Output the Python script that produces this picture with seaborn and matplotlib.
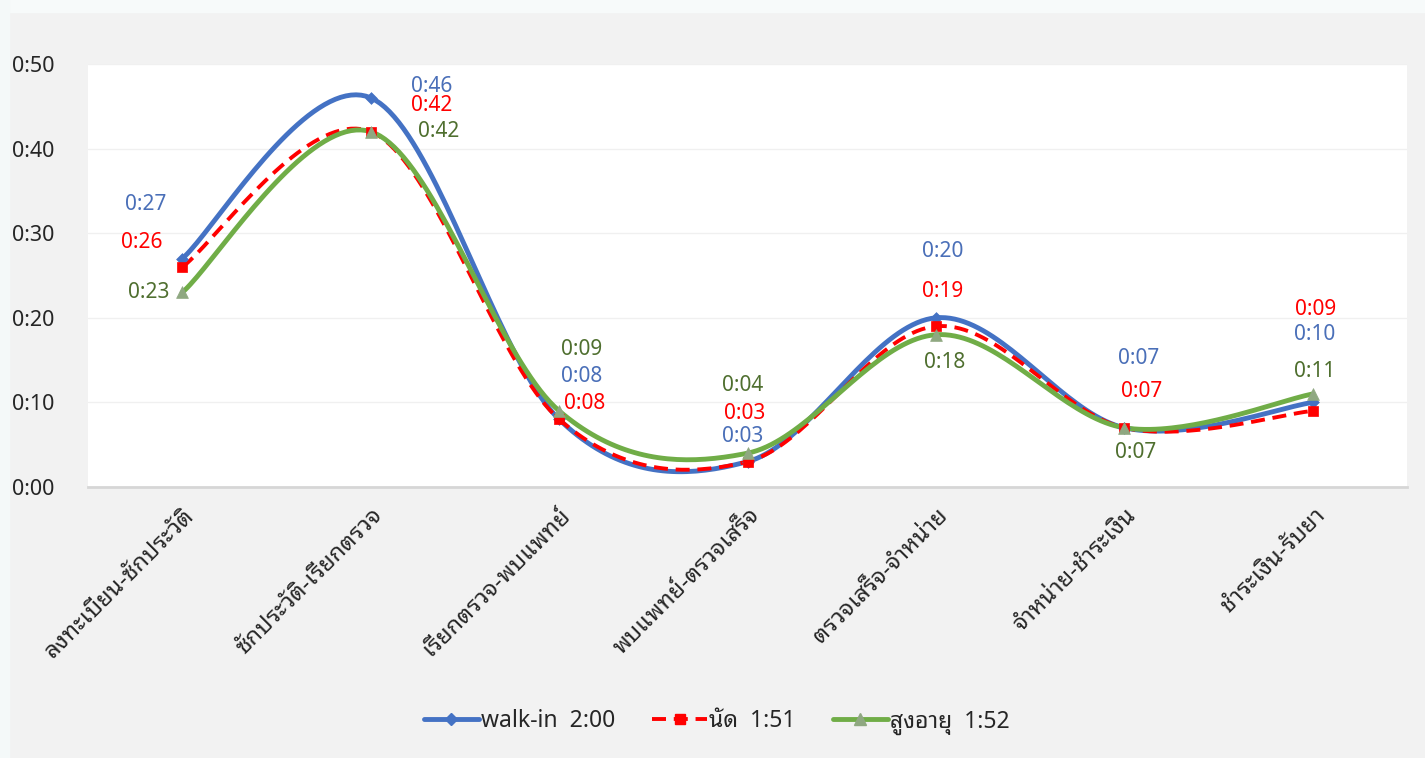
import numpy as np
import pandas as pd
import matplotlib
matplotlib.use("Agg")
import matplotlib.pyplot as plt
from matplotlib.lines import Line2D
from matplotlib.ticker import FuncFormatter, MultipleLocator
import seaborn as sns

# Waiting time per step (minutes)
steps = [
    "ลงทะเบียน-ซักประวัติ",
    "ซักประวัติ-เรียกตรวจ",
    "เรียกตรวจ-พบแพทย์",
    "พบแพทย์-ตรวจเสร็จ",
    "ตรวจเสร็จ-จำหน่าย",
    "จำหน่าย-ชำระเงิน",
    "ชำระเงิน-รับยา",
]
walkin = [27, 46, 8, 3, 20, 7, 10]
appointment = [26, 42, 8, 3, 19, 7, 9]
elderly = [23, 42, 9, 4, 18, 7, 11]

series_names = ["walk-in", "นัด", "สูงอายุ"]
series_totals = [120, 111, 112]  # total minutes shown in the legend

sns.set_theme(style="white")
plt.rcParams["font.family"] = ["Noto Sans", "Noto Sans Thai Looped", "DejaVu Sans"]


def hm(v, _pos=None):
    v = int(round(v))
    return f"{v // 60}:{v % 60:02d}"


def smooth_curve(xs, ys, n=40):
    """Cubic Bezier smoothing through every point (spreadsheet-style)."""
    pts = np.column_stack([xs, ys]).astype(float)
    out = []
    for i in range(len(pts) - 1):
        p0 = pts[max(i - 1, 0)]
        p1 = pts[i]
        p2 = pts[i + 1]
        p3 = pts[min(i + 2, len(pts) - 1)]
        b1 = p1 + (p2 - p0) / 6.0
        b2 = p2 - (p3 - p1) / 6.0
        t = np.linspace(0, 1, n, endpoint=(i == len(pts) - 2))[:, None]
        seg = ((1 - t) ** 3) * p1 + 3 * ((1 - t) ** 2) * t * b1 + 3 * (1 - t) * t ** 2 * b2 + t ** 3 * p2
        out.append(seg)
    arr = np.vstack(out)
    return arr[:, 0], arr[:, 1]


fig = plt.figure(figsize=(14.25, 7.58), dpi=100, facecolor="#f2f2f2")
ax = fig.add_axes([0.0618, 0.3575, 0.9256, 0.5581])
ax.set_facecolor("white")

# pale strips along the top and left edges of the panel
fig.patches.append(plt.Rectangle((0, 0.984), 1, 0.016, transform=fig.transFigure,
                                 color="#f7fafa", zorder=0))
fig.patches.append(plt.Rectangle((0, 0), 0.006, 1, transform=fig.transFigure,
                                 color="#f4f9f9", zorder=0))

x = np.arange(len(steps))
df = pd.DataFrame({"step": x, "walk-in": walkin, "นัด": appointment, "สูงอายุ": elderly})

styles = {
    "walk-in": dict(line="#4472c4", marker="D", mcolor="#4472c4", ms=6.0, ls="-", lw=3.5, label="#4a6fb8"),
    "นัด": dict(line="#ff0000", marker="s", mcolor="#ff0000", ms=7.5, ls=(0, (3.6, 2.0)), lw=2.8, label="#ff0000"),
    "สูงอายุ": dict(line="#70ad47", marker="^", mcolor="#8fa881", ms=8.5, ls="-", lw=3.5, label="#4f6f2f"),
}

for name in series_names:
    st = styles[name]
    sx, sy = smooth_curve(df["step"], df[name])
    sns.lineplot(x=sx, y=sy, ax=ax, color=st["line"], linewidth=st["lw"],
                 linestyle=st["ls"], sort=False, estimator=None, zorder=3)
    sns.scatterplot(x=df["step"], y=df[name], ax=ax, marker=st["marker"], s=st["ms"] ** 2,
                    color=st["mcolor"], edgecolor=st["mcolor"], linewidth=0.5, zorder=4)

# data label offsets in pixels (dx, dy), per series and step
label_offsets = {
    "walk-in": [(-37, 54), (61, 11), (22, 43), (-5, 25), (7, 66), (14, 69), (2, 68)],
    "นัด": [(-41, 25), (61, 26), (25, 16), (-3, 48), (7, 35), (17, 36), (3, 101)],
    "สูงอายุ": [(-34, 0), (68, 0), (22, 61), (-5, 68), (9, -28), (11, -25), (2, 22)],
}
for name in series_names:
    st = styles[name]
    for i, v in enumerate(df[name]):
        dx, dy = label_offsets[name][i]
        ax.annotate(hm(v), (i, v), xytext=(dx * 0.72, dy * 0.72), textcoords="offset points",
                    ha="center", va="center", fontsize=15, color=st["label"], zorder=5)

ax.set_xlim(-0.5, len(steps) - 0.5)
ax.set_ylim(0, 50)
ax.yaxis.set_major_locator(MultipleLocator(10))
ax.yaxis.set_major_formatter(FuncFormatter(hm))
ax.grid(axis="y", color="#f0f0f0", linewidth=1.0)
ax.grid(axis="x", visible=False)
ax.set_xticks(x)
ax.set_xticklabels(steps, rotation=45, ha="right", rotation_mode="anchor",
                   fontsize=17, color="#262626")
ax.tick_params(axis="x", length=0, pad=12)
ax.tick_params(axis="y", length=0, pad=24, labelsize=15.5, labelcolor="#262626")
for lab in ax.get_yticklabels():
    lab.set_horizontalalignment("right")
for side in ["top", "right", "left"]:
    ax.spines[side].set_visible(False)
ax.spines["bottom"].set_color("#d6d6d6")
ax.spines["bottom"].set_linewidth(2)
ax.set_xlabel("")
ax.set_ylabel("")

handles = []
for name, tot in zip(series_names, series_totals):
    st = styles[name]
    handles.append(Line2D([0], [0], color=st["line"], linewidth=st["lw"], linestyle=st["ls"],
                          marker=st["marker"], markersize=st["ms"], markerfacecolor=st["mcolor"],
                          markeredgecolor=st["mcolor"],
                          label=f"{name}  {hm(tot)}"))
fig.legend(handles=handles, loc="center", bbox_to_anchor=(0.503, 0.0475), ncol=3, frameon=False,
           fontsize=16.5, handlelength=2.4, handletextpad=0.1, columnspacing=1.6, numpoints=1)

fig.savefig("out.png", dpi=100, facecolor=fig.get_facecolor())
